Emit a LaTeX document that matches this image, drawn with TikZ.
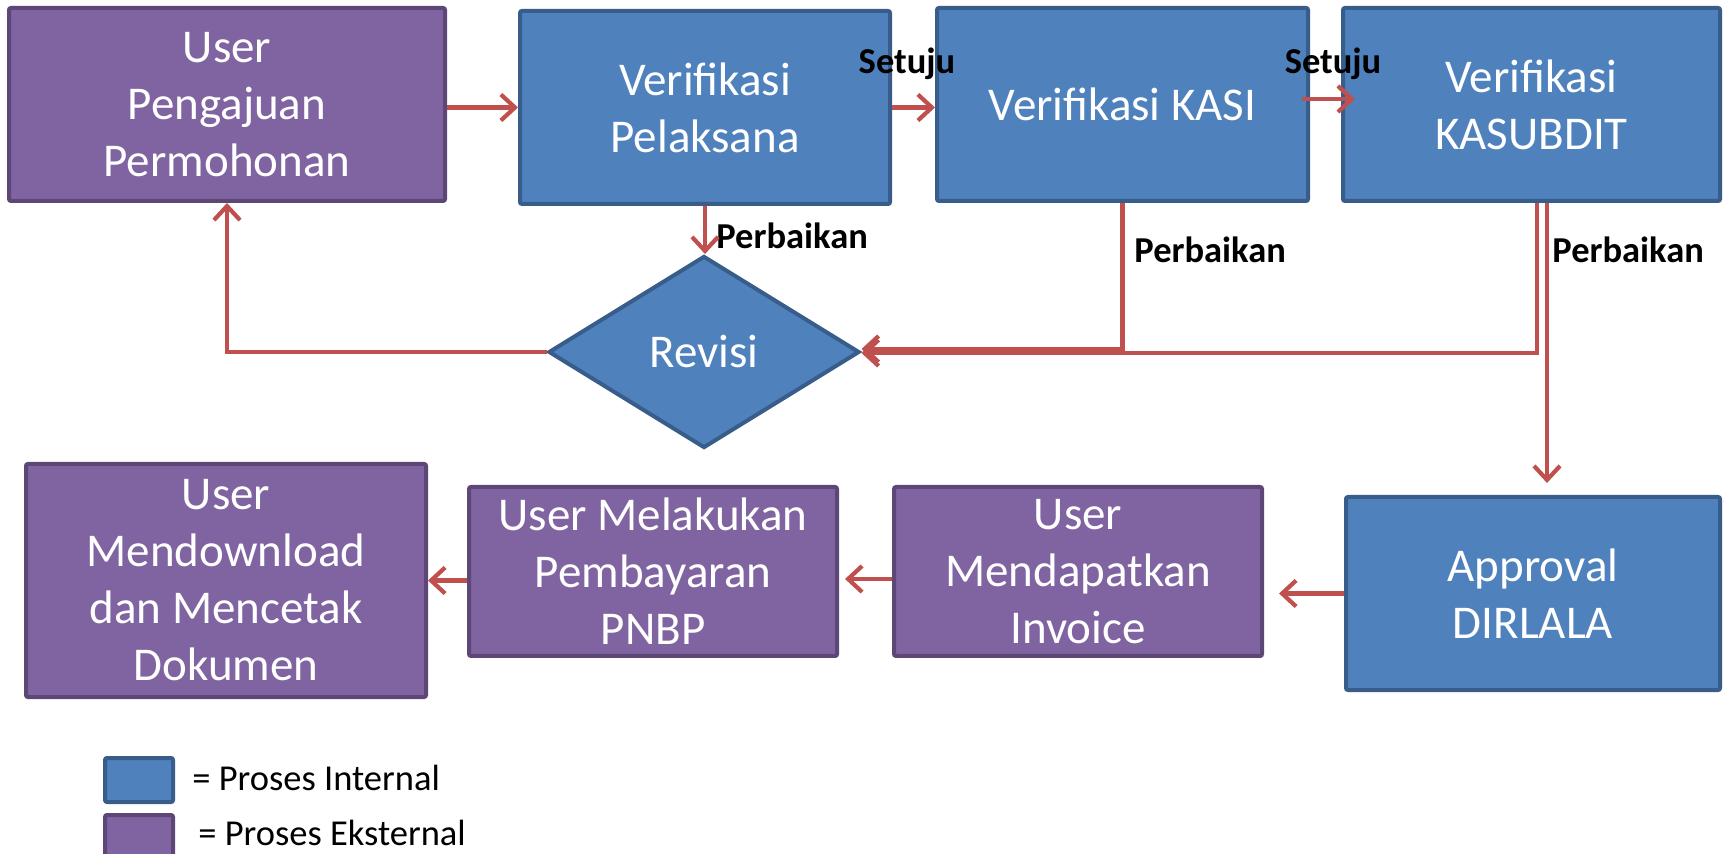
\documentclass[tikz,border=0pt]{standalone}
\usepackage{fontspec}
\setmainfont{Carlito}
\usetikzlibrary{shapes.geometric,arrows.meta,calc}
\definecolor{bfill}{HTML}{4F81BD}
\definecolor{bdraw}{HTML}{385D8A}
\definecolor{pfill}{HTML}{8064A2}
\definecolor{pdraw}{HTML}{5C4776}
\definecolor{ared}{HTML}{C0504D}
\begin{document}
\begin{tikzpicture}[x=0.5pt,y=-0.5pt,
 box/.style={rectangle, rounded corners=1pt, line width=2pt, inner sep=0pt, align=center, text=white, font=\fontsize{23.5}{28.5}\selectfont},
 intbox/.style={box, fill=bfill, draw=bdraw},
 extbox/.style={box, fill=pfill, draw=pdraw},
 conn/.style={draw=ared, line width=2.1pt, -{Straight Barb[length=7pt,width=13pt,line width=2.1pt]}},
 lbl/.style={font=\bfseries\fontsize{18.25}{20}\selectfont, inner sep=0pt},
 leg/.style={font=\fontsize{18.25}{20}\selectfont, inner sep=0pt, anchor=west}]
\fill[white] (0,0) rectangle (1723,854);
\useasboundingbox (0,0) rectangle (1723,854);
% nodes
\node[extbox, minimum width=218pt, minimum height=96.5pt] (user) at (227,104.5) {User\\Pengajuan\\Permohonan};
\node[intbox, minimum width=185pt, minimum height=96.5pt] (pel) at (705,107.5) {Verifikasi\\Pelaksana};
\node[intbox, minimum width=185.5pt, minimum height=96.5pt] (kasi) at (1122.5,104.5) {Verifikasi KASI};
\node[intbox, minimum width=188.5pt, minimum height=96.5pt] (kasub) at (1531.5,104.5) {Verifikasi\\KASUBDIT};
\node[intbox, diamond, rounded corners=0pt, minimum width=155.5pt, minimum height=96pt] (rev) at (704,352) {Revisi};
\node[extbox, minimum width=200pt, minimum height=116.5pt] (dl) at (226,580.5) {User\\Mendownload\\dan Mencetak\\Dokumen};
\node[extbox, minimum width=184pt, minimum height=84.5pt] (bayar) at (653,571.5) {User Melakukan\\Pembayaran\\PNBP};
\node[extbox, minimum width=184pt, minimum height=84.5pt] (inv) at (1078,571.5) {User\\Mendapatkan\\Invoice};
\node[intbox, minimum width=187pt, minimum height=96.5pt] (appr) at (1533,593.5) {Approval\\DIRLALA};
% legend
\node[intbox, minimum width=34pt, minimum height=22pt] (legi) at (139,780) {};
\node[extbox, minimum width=34pt, minimum height=23pt] (lege) at (139,838) {};
\node[leg] (legit) at (192,778) {= Proses Internal};
\node[leg] (leget) at (198,833) {= Proses Eksternal};
% labels
\node[lbl] (s1) at (907,64) {Setuju};
\node[lbl] (s2) at (1333,64) {Setuju};
\node[lbl, anchor=west] (p1) at (716,236) {Perbaikan};
\node[lbl, anchor=west] (p2) at (1134,250) {Perbaikan};
\node[lbl, anchor=west] (p3) at (1552,250) {Perbaikan};
% connectors
\draw[conn] (user.east |- pel.west) -- (pel.west);
\draw[conn] (pel.east) -- (pel.east -| kasi.west);
\draw[conn] ($(kasi.east)+(-8,-5.5)$) -- ($(kasub.west)+(14,-5.5)$);
\draw[conn] (pel.south) -- (pel.south |- rev.north);
\draw[conn] (kasi.south) |- ($(rev.east)+(0,-3)$);
\draw[conn] ($(kasub.south)+(5.5,0)$) |- ($(rev.east)+(0,1)$);
\draw[conn] ($(kasub.south)+(15.5,0)$) -- ($(kasub.south |- appr.north)+(15.5,-12)$);
\draw[conn] (rev.west) -| (user.south);
\draw[conn] (appr.west) -- ($(appr.west -| inv.east)+(15,0)$);
\draw[conn] ($(inv.west)+(0,7.5)$) -- ($(bayar.east)+(6,7.5)$);
\draw[conn] (bayar.west |- dl.east) -- (dl.east);
\end{tikzpicture}
\end{document}
